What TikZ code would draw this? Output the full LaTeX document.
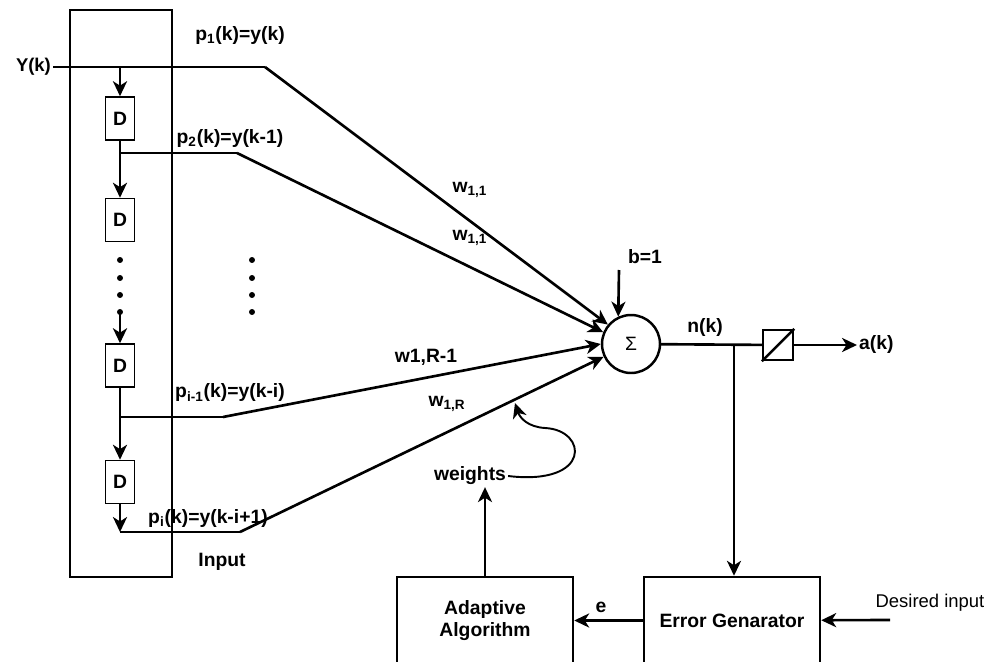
\documentclass[tikz,border=0pt]{standalone}
\usepackage{fontspec}
\setmainfont{Liberation Sans}
\usetikzlibrary{arrows.meta}

\begin{document}
\begin{tikzpicture}[x=0.02cm, y=-0.02cm, font=\fontsize{11}{13}\selectfont\bfseries]
	\useasboundingbox (0,0) rectangle (997,662);
	% tapped delay line
	\draw[line width=0.8pt] (70,10) rectangle (172,577);
	\begin{scope}[every node/.style = {draw, line width=0.9pt, minimum width=0.58cm, minimum height=0.86cm, inner sep=0pt}]
		\node (D1) at (120,118.5) {D};
		\node (D2) at (120,220) {D};
		\node (D3) at (120,365.5) {D};
		\node (D4) at (120,482) {D};
	\end{scope}
	\foreach \y in {260,278,295,312} {
		\fill (120,\y) circle (1.7pt);
		\fill (252,\y) circle (1.7pt);
	}
	% neuron, transfer box and the two blocks
	\begin{scope}[every node/.style = {draw, line width=1.4pt, inner sep=0pt}]
		\node[circle, minimum size=1.16cm] (S) at (631,344) {\mdseries Σ};
		\node[minimum size=0.6cm] (F) at (778,345) {};
		\node[minimum width=3.52cm, minimum height=1.74cm] (EG) at (732,620.5) {Error Genarator};
		\node[minimum width=3.52cm, minimum height=1.74cm, align=center] (AA) at (485,620.5) {Adaptive\\Algorithm};
	\end{scope}
	\draw[line width=1.4pt] (F.south west) -- (F.north east);
	% labels
	\begin{scope}[every node/.style = {inner sep=1pt}]
		\node[anchor=east, font=\fontsize{10.5}{12}\selectfont\bfseries] (Y) at (53,67) {Y(k)};
		\node (P1) at (240,36) {p\textsubscript{1}(k)=y(k)};
		\node (P2) at (230,139) {p\textsubscript{2}(k)=y(k-1)};
		\node (P3) at (230,393) {p\textsubscript{i-1}(k)=y(k-i)};
		\node (P4) at (208,518) {p\textsubscript{i}(k)=y(k-i+1)};
		\node (IN) at (222,562) {Input};
		\node (W1) at (470,190) {w\textsubscript{1,1}};
		\node (W2) at (470,238) {w\textsubscript{1,1}};
		\node (W3) at (426,357) {w1,R-1};
		\node (W4) at (447,404) {w\textsubscript{1,R}};
		\node (BL) at (645,257) {b=1};
		\node (NK) at (705,328) {n(k)};
		\node[anchor=west] (AK) at (857,345) {a(k)};
		\node (E) at (601,607) {e};
		\node (W) at (470,476) {weights};
		\node[font=\fontsize{10.5}{12}\selectfont] (DI) at (930,603) {Desired input};
	\end{scope}
	\coordinate (T1) at (120,67);
	\coordinate (B1) at (265,67);
	\coordinate (T2) at (120,153);
	\coordinate (B2) at (237,153);
	\coordinate (G) at (120,312);
	\coordinate (T3) at (120,417);
	\coordinate (B3) at (223,417);
	\coordinate (T4) at (120,532);
	\coordinate (B4) at (240,532);
	\coordinate (BIAS) at (619,270);
	\coordinate (J) at (734,345);
	\coordinate (DES) at (890,620);
	\coordinate (WR) at (515,403);
	\begin{scope}[>={Stealth[length=8.5pt, width=8pt, inset=2.5pt]},
			every edge/.style={draw=black, line width=1.5pt}]
		\path [-] (Y.east) edge (B1);
		\path [->] (B1) edge (S.140);
		\path [->] (T1) edge (D1);
		\path [->] (D1) edge (D2);
		\path [-] (T2) edge (B2);
		\path [->] (B2) edge (S.157);
		\path [->] (G) edge (D3);
		\path [->] (D3) edge (D4);
		\path [-] (T3) edge (B3);
		\path [->] (B3) edge (S.180);
		\path [->] (D4) edge (T4);
		\path [-] (T4) edge (B4);
		\path [->] (B4) edge (S.205);
		\path [->] (BIAS) edge (S.115);
		\path [-] (S) edge (F);
		\path [->] (F) edge (F -| AK.west);
		\path [->] (J) edge (J |- EG.north);
		\path [->] (EG) edge (AA);
		\path [->] (DES) edge (EG);
		\path [->] (AA) edge (AA |- W.south);
		\draw [->, line width=1.1pt] (W.east) .. controls (592,486) and (588,430) .. (545,428)
			.. controls (528,427) and (520,418) .. (WR);
	\end{scope}
\end{tikzpicture}
\end{document}
